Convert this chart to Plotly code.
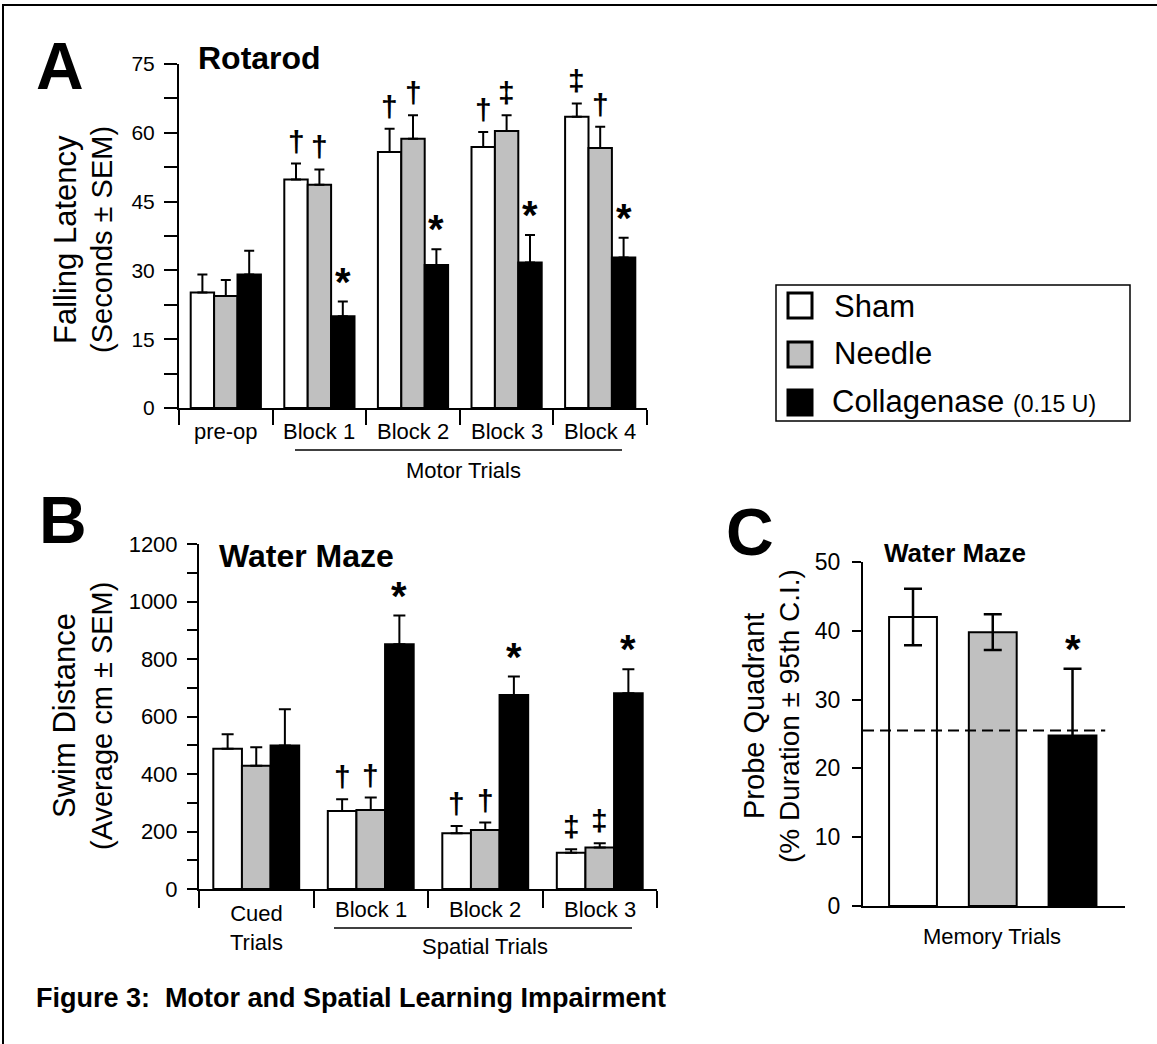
import plotly.graph_objects as go

W, H = 1157, 1044
FONT = "Liberation Sans, Arial, sans-serif"

# ---------------- Panel A: Rotarod ----------------
a_categories = ["pre-op", "Block 1", "Block 2", "Block 3", "Block 4"]
a_sham = [25.2, 49.8, 55.8, 56.9, 63.5]
a_sham_err = [3.9, 3.5, 5.1, 3.3, 2.9]
a_needle = [24.4, 48.7, 58.7, 60.4, 56.7]
a_needle_err = [3.5, 3.3, 5.1, 3.4, 4.6]
a_coll = [29.1, 20.0, 31.2, 31.7, 32.8]
a_coll_err = [5.2, 3.2, 3.4, 6.0, 4.3]
a_sham_sig = ["", "†", "†", "†", "‡"]
a_needle_sig = ["", "†", "†", "‡", "†"]
a_coll_sig = ["", "*", "*", "*", "*"]
a_ticks = [0, 7.5, 15, 22.5, 30, 37.5, 45, 52.5, 60, 67.5, 75]
a_ticklabels = ["0", "", "15", "", "30", "", "45", "", "60", "", "75"]

# ---------------- Panel B: Water Maze swim distance ----------------
b_categories = ["Cued<br>Trials", "Block 1", "Block 2", "Block 3"]
b_sham = [488, 271, 194, 126]
b_sham_err = [50, 41, 25, 12]
b_needle = [429, 275, 205, 144]
b_needle_err = [64, 43, 26, 15]
b_coll = [499, 851, 675, 681]
b_coll_err = [126, 100, 64, 83]
b_sham_sig = ["", "†", "†", "‡"]
b_needle_sig = ["", "†", "†", "‡"]
b_coll_sig = ["", "*", "*", "*"]
b_ticks = list(range(0, 1201, 100))
b_ticklabels = [str(v) if v % 200 == 0 else "" for v in b_ticks]

# ---------------- Panel C: Probe quadrant ----------------
c_groups = ["Sham", "Needle", "Collagenase"]
c_values = [42.0, 39.8, 24.8]
c_ci = [4.1, 2.6, 9.7]
c_sig = ["", "", "*"]
c_chance = 25.5
c_ticks = [0, 10, 20, 30, 40, 50]

series_names = ["Sham", "Needle", "Collagenase"]
series_colors = ["#ffffff", "#c0c0c0", "#000000"]
BARGAP = 0.25


def px(x):
    return x / W


def py(y):
    return 1 - y / H


fig = go.Figure()

# Panel A bars
for name, col, vals, errs in zip(series_names, series_colors,
                                 [a_sham, a_needle, a_coll],
                                 [a_sham_err, a_needle_err, a_coll_err]):
    fig.add_trace(go.Bar(
        x=list(range(len(a_categories))), y=vals, name=name,
        marker=dict(color=col, line=dict(color="black", width=2)),
        error_y=dict(type="data", array=errs, arrayminus=[0] * len(errs), symmetric=False,
                     color="black", thickness=2, width=5),
        xaxis="x", yaxis="y", showlegend=False))

# Panel B bars
for name, col, vals, errs in zip(series_names, series_colors,
                                 [b_sham, b_needle, b_coll],
                                 [b_sham_err, b_needle_err, b_coll_err]):
    fig.add_trace(go.Bar(
        x=list(range(len(b_categories))), y=vals, name=name,
        marker=dict(color=col, line=dict(color="black", width=2)),
        error_y=dict(type="data", array=errs, arrayminus=[0] * len(errs), symmetric=False,
                     color="black", thickness=2, width=6),
        xaxis="x2", yaxis="y2", showlegend=False))

# Panel C bars
fig.add_trace(go.Bar(
    x=list(range(len(c_groups))), y=c_values, width=0.6,
    marker=dict(color=series_colors, line=dict(color="black", width=2)),
    error_y=dict(type="data", array=c_ci, color="black", thickness=2.5, width=9),
    xaxis="x3", yaxis="y3", showlegend=False))

# chance line
fig.add_trace(go.Scatter(
    x=[-0.627, 2.41], y=[c_chance, c_chance], mode="lines",
    line=dict(color="black", width=2, dash="11px,6px"),
    xaxis="x3", yaxis="y3", showlegend=False, hoverinfo="skip"))

annotations = []


def sig_annots(sigs_list, vals_list, errs_list, xref, yref, n_series=3):
    w = (1 - BARGAP) / n_series
    for j, (sigs, vals, errs) in enumerate(zip(sigs_list, vals_list, errs_list)):
        for i, (s, v, e) in enumerate(zip(sigs, vals, errs)):
            if not s:
                continue
            star = s == "*"
            annotations.append(dict(
                x=i + (j - (n_series - 1) / 2) * w, y=v + e, xref=xref, yref=yref,
                text=f"<b>{s}</b>", showarrow=False, yanchor="bottom", xanchor="center",
                yshift=-4 if star else 4,
                font=dict(family=FONT, size=40 if star else 30, color="black")))


sig_annots([a_sham_sig, a_needle_sig, a_coll_sig], [a_sham, a_needle, a_coll],
           [a_sham_err, a_needle_err, a_coll_err], "x", "y")
sig_annots([b_sham_sig, b_needle_sig, b_coll_sig], [b_sham, b_needle, b_coll],
           [b_sham_err, b_needle_err, b_coll_err], "x2", "y2")
for i, (s, v, e) in enumerate(zip(c_sig, c_values, c_ci)):
    if s:
        annotations.append(dict(x=i, y=v + e, xref="x3", yref="y3", text=f"<b>{s}</b>",
                                showarrow=False, yanchor="bottom", yshift=-4,
                                font=dict(family=FONT, size=40, color="black")))

# category labels
for i, c in enumerate(a_categories):
    annotations.append(dict(x=i, y=py(431), xref="x", yref="paper", text=c, showarrow=False,
                            yanchor="middle", font=dict(family=FONT, size=22, color="black")))
for i, c in enumerate(b_categories):
    yy = 928 if "<br>" in c else 909
    annotations.append(dict(x=i, y=py(yy), xref="x2", yref="paper", text=c, showarrow=False,
                            yanchor="middle", font=dict(family=FONT, size=22, color="black")))


def txt(x, y, text, size, bold=False, xanchor="center", angle=0):
    annotations.append(dict(
        x=px(x), y=py(y), xref="paper", yref="paper", showarrow=False,
        text=f"<b>{text}</b>" if bold else text, xanchor=xanchor, yanchor="middle",
        textangle=angle, font=dict(family=FONT, size=size, color="black")))


# group labels
txt(463, 470, "Motor Trials", 22)
txt(485, 946, "Spatial Trials", 22)
txt(992, 936, "Memory Trials", 22)

# panel letters and titles
txt(60, 66, "A", 66, bold=True)
txt(63, 520, "B", 66, bold=True)
txt(750, 532, "C", 66, bold=True)
txt(196, 58, "Rotarod", 32, bold=True, xanchor="left")
txt(217, 556, "Water Maze", 32, bold=True, xanchor="left")
txt(882, 553, "Water Maze", 26, bold=True, xanchor="left")

# y-axis titles
txt(66, 240, "Falling Latency", 31, angle=-90)
txt(102, 240, "(Seconds ± SEM)", 29, angle=-90)
txt(64, 716, "Swim Distance", 31, angle=-90)
txt(102, 716, "(Average cm ± SEM)", 29, angle=-90)
txt(754, 716, "Probe Quadrant", 29, angle=-90)
txt(789, 716, "(% Duration ± 95th C.I.)", 28, angle=-90)

# caption
txt(34, 998, "Figure 3:  Motor and Spatial Learning Impairment", 27, bold=True, xanchor="left")

# legend text
txt(832, 306, "Sham", 31, xanchor="left")
txt(832, 353, "Needle", 31, xanchor="left")
txt(830, 402, "Collagenase <span style='font-size:23px'>(0.15 U)</span>", 31, xanchor="left")

shapes = []


def pline(x0, y0, x1, y1, w=2):
    shapes.append(dict(type="line", xref="paper", yref="paper", x0=px(x0), y0=py(y0),
                       x1=px(x1), y1=py(y1), line=dict(color="black", width=w)))


def prect(x0, y0, x1, y1, fill, w=2):
    shapes.append(dict(type="rect", xref="paper", yref="paper", x0=px(x0), y0=py(y0),
                       x1=px(x1), y1=py(y1), fillcolor=fill, line=dict(color="black", width=w)))


pline(295, 450, 622, 450, 1.5)
pline(334, 928, 632, 928, 1.5)
# outer frame (top and left)
pline(2, 5, 1157, 5, 2)
pline(3, 4, 3, 1044, 2)
# legend
prect(776, 285, 1130, 421, "rgba(0,0,0,0)", 1.5)
prect(788, 293, 812, 318, series_colors[0], 3)
prect(788, 342, 812, 367, series_colors[1], 3)
prect(788, 390, 812, 415, series_colors[2], 3)

axis_common = dict(showline=True, linecolor="black", linewidth=2, ticks="outside",
                   tickcolor="black", tickwidth=2, showgrid=False, zeroline=False,
                   automargin=False,
                   tickfont=dict(family=FONT, size=22, color="black"))
axis_nofont = {k: v for k, v in axis_common.items() if k != "tickfont"}

fig.update_layout(
    template="none",
    width=W, height=H, margin=dict(l=0, r=0, t=0, b=0, pad=0, autoexpand=False),
    paper_bgcolor="white", plot_bgcolor="rgba(0,0,0,0)",
    barmode="group", bargap=BARGAP, bargroupgap=0,
    xaxis=dict(domain=[px(179), px(647)], range=[-0.5, 4.5], anchor="y",
               tickmode="array", tickvals=[i - 0.5 for i in range(6)], showticklabels=False,
               ticklen=15, **axis_nofont),
    yaxis=dict(domain=[py(408), py(64)], range=[0, 75], anchor="x",
               tickmode="array", tickvals=a_ticks, ticktext=a_ticklabels, ticklen=13,
               ticklabelstandoff=5, **{**axis_common, "tickfont": dict(family=FONT, size=21, color="black")}),
    xaxis2=dict(domain=[px(199), px(657)], range=[-0.5, 3.5], anchor="y2",
                tickmode="array", tickvals=[i - 0.5 for i in range(5)], showticklabels=False,
                ticklen=17, **axis_nofont),
    yaxis2=dict(domain=[py(889), py(544)], range=[0, 1200], anchor="x2",
                tickmode="array", tickvals=b_ticks, ticktext=b_ticklabels, ticklen=10,
                ticklabelstandoff=5, **axis_common),
    xaxis3=dict(domain=[px(863), px(1125)], range=[-0.627, 2.658], anchor="y3",
                showticklabels=False, **{**axis_nofont, "ticks": ""}),
    yaxis3=dict(domain=[py(906), py(562)], range=[0, 50], anchor="x3",
                tickmode="array", tickvals=c_ticks, ticklen=9,
                ticklabelstandoff=7, **{**axis_common, "tickfont": dict(family=FONT, size=23, color="black")}),
    annotations=annotations, shapes=shapes,
)

fig.write_html("out.html", config={"displayModeBar": False},
               post_script="document.body.style.margin='0px';document.body.style.overflow='hidden';")
